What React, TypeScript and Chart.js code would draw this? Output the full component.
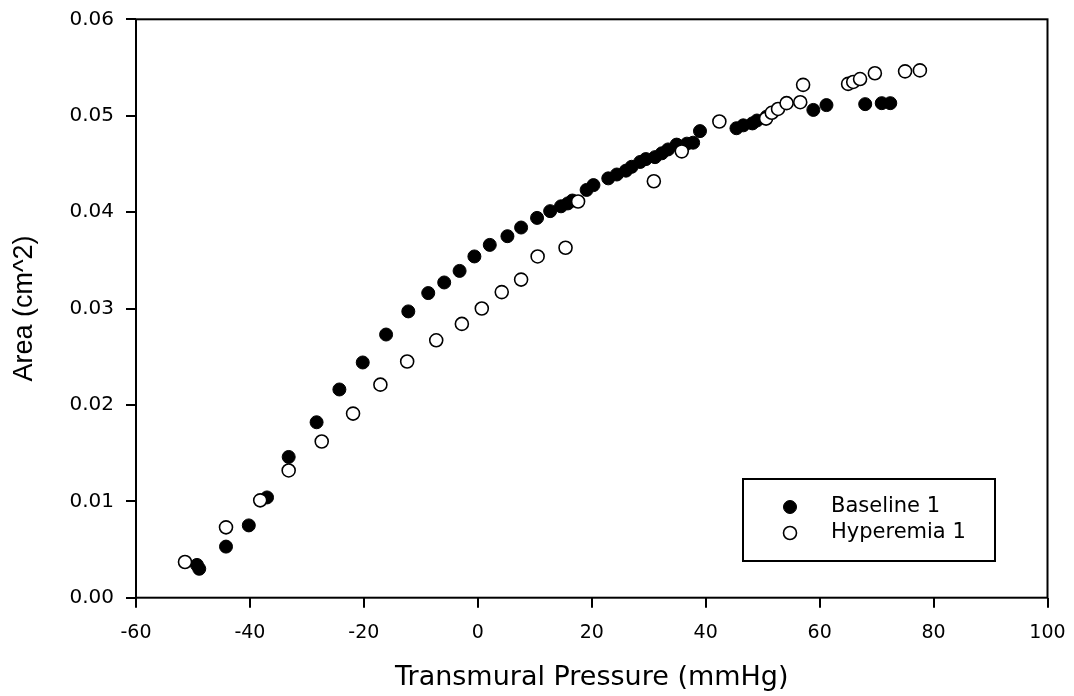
import React, { useEffect, useRef } from "react";
import { Chart, registerables } from "chart.js";

Chart.register(...registerables);

// ---- Data ----
const seriesLabels = ["Baseline 1", "Hyperemia 1"];

const baselineX = [
  -49.3, -48.9, -44.2, -40.2, -37.0, -33.2, -28.3, -24.3, -20.2, -16.1, -12.2, -8.7, -5.9, -3.2,
  -0.6, 2.1, 5.2, 7.6, 10.4, 12.7, 14.6, 15.8, 16.6, 19.1, 20.3, 22.9, 24.4, 26.0, 27.0, 28.5,
  29.5, 31.1, 32.3, 33.4, 34.9, 36.7, 37.8, 39.0, 45.4, 46.6, 48.2, 49.0, 50.7, 58.9, 61.2,
  68.0, 70.9, 72.4,
];
const baselineY = [
  0.0034, 0.003, 0.0053, 0.0075, 0.0104, 0.0146, 0.0182, 0.0216, 0.0244, 0.0273, 0.0297, 0.0316,
  0.0327, 0.0339, 0.0354, 0.0366, 0.0375, 0.0384, 0.0394, 0.0401, 0.0406, 0.0409, 0.0412, 0.0423,
  0.0428, 0.0435, 0.0439, 0.0443, 0.0447, 0.0452, 0.0455, 0.0457, 0.0461, 0.0465, 0.047, 0.0471,
  0.0472, 0.0484, 0.0487, 0.049, 0.0492, 0.0495, 0.0499, 0.0506, 0.0511, 0.0512, 0.0513, 0.0513,
];

const hyperemiaX = [
  -51.4, -44.2, -38.2, -33.2, -27.4, -21.9, -17.1, -12.4, -7.3, -2.8, 0.7, 4.2, 7.6, 10.5, 15.4,
  17.6, 30.9, 35.8, 42.4, 50.6, 51.6, 52.7, 54.2, 56.6, 57.1, 65.0, 65.9, 67.1, 69.7, 75.0, 77.6,
];
const hyperemiaY = [
  0.0037, 0.0073, 0.0101, 0.0132, 0.0162, 0.0191, 0.0221, 0.0245, 0.0267, 0.0284, 0.03, 0.0317,
  0.033, 0.0354, 0.0363, 0.0411, 0.0432, 0.0463, 0.0494, 0.0497, 0.0503, 0.0507, 0.0513, 0.0514,
  0.0532, 0.0533, 0.0535, 0.0538, 0.0544, 0.0546, 0.0547,
];

const xTickLabels = ["-60", "-40", "-20", "0", "20", "40", "60", "80", "100"];
const yTickLabels = ["0.00", "0.01", "0.02", "0.03", "0.04", "0.05", "0.06"];
const xTitle = "Transmural Pressure (mmHg)";
const yTitle = "Area (cm^2)";

const framePlugin = {
  id: "frame",
  beforeDatasetsDraw(chart: any) {
    const { ctx, chartArea: a } = chart;
    ctx.save();
    ctx.strokeStyle = "#000";
    ctx.lineWidth = 2;
    ctx.strokeRect(a.left, a.top, a.right - a.left, a.bottom - a.top);
    ctx.restore();
  },
};

const boxLegendPlugin = {
  id: "boxLegend",
  afterDatasetsDraw(chart: any) {
    const ctx = chart.ctx;
    const box = { left: 743, top: 479, right: 995, bottom: 561 };
    ctx.save();
    ctx.fillStyle = "#fff";
    ctx.fillRect(box.left, box.top, box.right - box.left, box.bottom - box.top);
    ctx.strokeStyle = "#000";
    ctx.lineWidth = 2;
    ctx.strokeRect(box.left, box.top, box.right - box.left, box.bottom - box.top);
    const rows = [507, 533];
    chart.data.datasets.forEach((ds: any, i: number) => {
      const cy = rows[i];
      ctx.beginPath();
      ctx.arc(790, cy, 6.5, 0, Math.PI * 2);
      ctx.fillStyle = ds.backgroundColor;
      ctx.fill();
      ctx.lineWidth = ds.borderWidth || 1;
      ctx.strokeStyle = "#000";
      ctx.stroke();
      ctx.fillStyle = "#000";
      ctx.font = "21px 'DejaVu Sans'";
      ctx.textBaseline = "middle";
      ctx.textAlign = "left";
      ctx.fillText(ds.label, 831, cy);
    });
    ctx.restore();
  },
};

const zeroPadding = (s: any) => {
  s.paddingLeft = 0;
  s.paddingRight = 0;
  s.paddingTop = 0;
  s.paddingBottom = 0;
};

export default function App() {
  const ref = useRef<HTMLCanvasElement | null>(null);

  useEffect(() => {
    const canvas = ref.current;
    if (!canvas) return;
    const chart = new Chart(canvas, {
      type: "scatter",
      data: {
        datasets: [
          {
            label: seriesLabels[0],
            data: baselineX.map((x, i) => ({ x, y: baselineY[i] })),
            backgroundColor: "#000",
            borderColor: "#000",
            borderWidth: 1,
            pointRadius: 6.5,
            pointStyle: "circle",
            order: 1,
          },
          {
            label: seriesLabels[1],
            data: hyperemiaX.map((x, i) => ({ x, y: hyperemiaY[i] })),
            backgroundColor: "#fff",
            borderColor: "#000",
            borderWidth: 1.6,
            pointRadius: 6.5,
            pointStyle: "circle",
            order: 0,
          },
        ],
      },
      options: {
        animation: false,
        responsive: false,
        devicePixelRatio: 1,
        layout: { padding: { top: 19.3, right: 26.5, left: 0, bottom: 0 } },
        plugins: { legend: { display: false }, tooltip: { enabled: false } },
        scales: {
          x: {
            type: "linear",
            min: -60,
            max: 100,
            ticks: {
              stepSize: 20,
              autoSkip: false,
              maxRotation: 0,
              padding: 14,
              color: "#000",
              font: { family: "'DejaVu Sans'", size: 19 },
              callback: (_v: any, i: number) => xTickLabels[i],
            },
            grid: { drawOnChartArea: false, drawTicks: true, tickLength: 10, color: "#000", lineWidth: 2 },
            border: { display: false },
            title: {
              display: true,
              text: xTitle,
              color: "#000",
              font: { family: "'DejaVu Sans'", size: 27 },
              padding: { top: 0, bottom: 2 },
            },
            afterFit: (s: any) => {
              s.height = 98.3;
              zeroPadding(s);
            },
          },
          y: {
            type: "linear",
            min: 0,
            max: 0.06,
            ticks: {
              stepSize: 0.01,
              autoSkip: false,
              padding: 12,
              color: "#000",
              font: { family: "'DejaVu Sans'", size: 20 },
              callback: (_v: any, i: number) => yTickLabels[i],
            },
            grid: { drawOnChartArea: false, drawTicks: true, tickLength: 10, color: "#000", lineWidth: 2 },
            border: { display: false },
            title: {
              display: true,
              text: yTitle,
              color: "#000",
              font: { family: "'Liberation Sans'", size: 27 },
              padding: { top: 8, bottom: 0 },
            },
            afterFit: (s: any) => {
              s.width = 136;
              zeroPadding(s);
            },
          },
        },
      },
      plugins: [framePlugin, boxLegendPlugin],
    } as any);
    return () => chart.destroy();
  }, []);

  return (
    <div style={{ position: "absolute", left: 0, top: 0, width: 1074, height: 696, background: "#fff" }}>
      <canvas ref={ref} width={1074} height={696} style={{ display: "block", width: 1074, height: 696 }} />
    </div>
  );
}
